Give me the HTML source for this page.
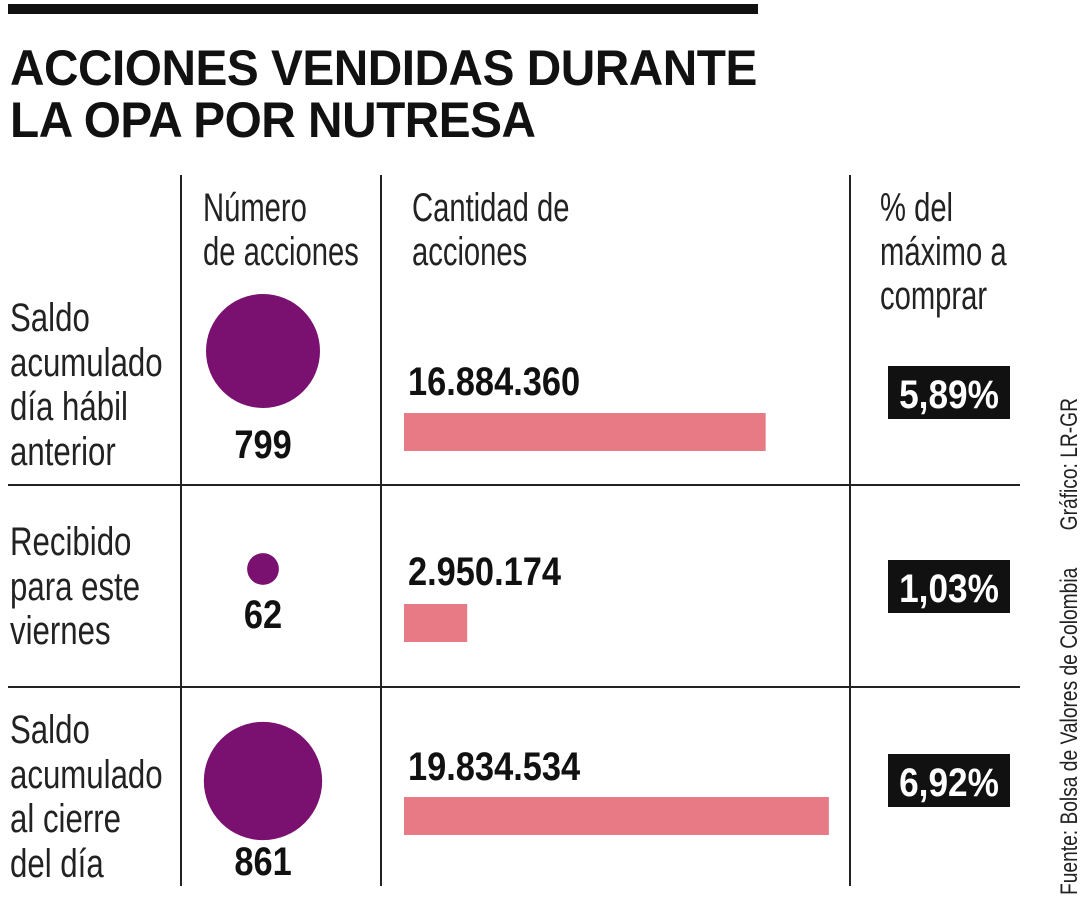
<!DOCTYPE html>
<html><head><meta charset="utf-8">
<style>
body{margin:0;width:1080px;height:900px;background:#fff;position:relative;overflow:hidden;font-family:"Liberation Sans",sans-serif;color:#111}
.a{position:absolute;white-space:nowrap;transform-origin:0 0}
.t{font-weight:bold;font-size:50px;line-height:52px;left:10px;letter-spacing:-0.5px;transform:scaleX(0.955)}
.h{font-size:40px;line-height:44px;color:#222;transform:scaleX(0.73)}
.r{font-size:40px;line-height:44.5px;left:10px;color:#222;transform:scaleX(0.78)}
</style></head><body>
<div class="a" style="left:8px;top:4px;width:750px;height:10px;background:#111"></div>
<div class="a t" style="top:42px">ACCIONES VENDIDAS DURANTE<br>LA OPA POR NUTRESA</div>
<div class="a h" style="left:203px;top:186px">Número<br>de acciones</div>
<div class="a h" style="left:412px;top:186px">Cantidad de<br>acciones</div>
<div class="a h" style="left:880px;top:186px">% del<br>máximo a<br>comprar</div>
<div class="a r" style="top:296px">Saldo<br>acumulado<br>día hábil<br>anterior</div>
<div class="a r" style="top:520px">Recibido<br>para este<br>viernes</div>
<div class="a r" style="top:708px">Saldo<br>acumulado<br>al cierre<br>del día</div>
<div class="a" style="left:1056px;top:895px;transform:rotate(-90deg) scaleX(0.8);font-size:24px;color:#222">Fuente: Bolsa de Valores de Colombia&nbsp;&nbsp;&nbsp;&nbsp;&nbsp;&nbsp;&nbsp;Gráfico: LR-GR</div>
<svg id="c" class="a" style="left:0;top:0" width="1080" height="900"></svg>
<script>
const counts=[799,62,861];
const countLabels=["799","62","861"];
const amounts=[16884360,2950174,19834534];
const amountLabels=["16.884.360","2.950.174","19.834.534"];
const percents=["5,89%","1,03%","6,92%"];
const NS="http://www.w3.org/2000/svg";
const svg=document.getElementById('c');
function mk(t,a){const e=document.createElementNS(NS,t);for(const k in a)e.setAttribute(k,a[k]);svg.appendChild(e);return e;}
function txt(x,y,s,anchor,fill,str){const t=mk('text',{x:0,y:0,transform:`translate(${x},${y}) scale(${s},1)`,'text-anchor':anchor,'font-size':40,'font-weight':'bold',fill:fill,'font-family':'Liberation Sans, sans-serif'});t.textContent=str;return t;}
const xBar=v=>v/1e6*21.42;
const rCirc=v=>57*Math.sqrt(v/799);
[181,381,850].forEach(x=>{const l=mk('line',{x1:x,x2:x,y1:175,y2:886,stroke:'#222','stroke-width':2});
});
[485,687].forEach(y=>{const l=mk('line',{x1:8,x2:1020,y1:y,y2:y,stroke:'#222','stroke-width':2});
});
const cy=[351,569,781],numY=[458,628,875],barY=[413,604,797],valY=[395,585,780],pY=[366,560,754];
counts.forEach((c,i)=>{
 const ci=mk('circle',{cx:263,cy:cy[i],r:rCirc(c),fill:'#7a1170'});
 
 const t=txt(263,numY[i],0.86,'middle','#111',countLabels[i]);
 
 const b=mk('rect',{x:404,y:barY[i],width:xBar(amounts[i]),height:38,fill:'#e87a86'});
 
 const v=txt(408,valY[i],0.86,'start','#111',amountLabels[i]);
 
 const pr=mk('rect',{x:888,y:pY[i],width:122,height:53,fill:'#111'});
 
 const pt=txt(949,pY[i]+42,0.88,'middle','#fff',percents[i]);
 
});
</script>
</body></html>
